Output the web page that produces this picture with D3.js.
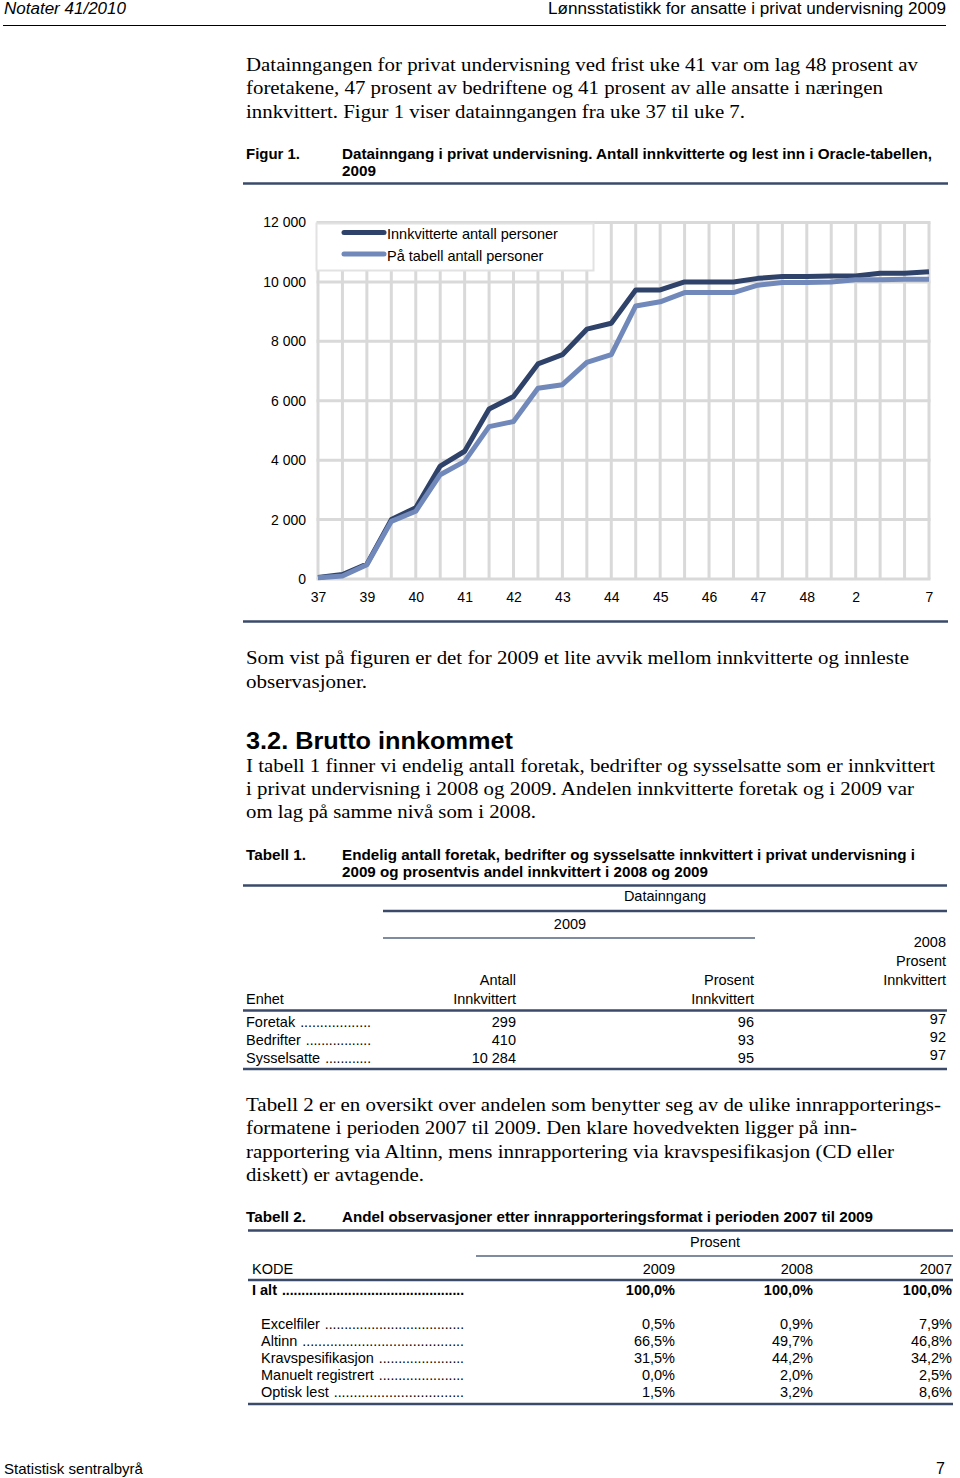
<!DOCTYPE html>
<html>
<head>
<meta charset="utf-8">
<script src="https://cdn.jsdelivr.net/npm/d3@7"></script>
<style>
  html, body { margin: 0; padding: 0; background: #fff; }
  svg { display: block; }
</style>
</head>
<body>
<div id="page"></div>
<script>
// ---------------- DATA ----------------
const weekLabels = ["37","","39","","40","","41","","42","","43","","44","","45","","46","","47","","48","","2","","","7"];
const innkvitterte = [50,150,500,2000,2400,3800,4300,5720,6140,7240,7550,8410,8610,9730,9730,10000,10000,10000,10120,10180,10180,10200,10200,10290,10290,10340];
const paTabell = [40,100,480,1940,2280,3510,3960,5130,5300,6420,6540,7290,7550,9190,9330,9640,9640,9640,9890,9980,9980,10000,10070,10070,10090,10090];
const seriesNames = ["Innkvitterte antall personer", "På tabell antall personer"];
const yTicks = [0, 2000, 4000, 6000, 8000, 10000, 12000];

const t1Units = ["Foretak", "Bedrifter", "Sysselsatte"];
const t1Antall2009 = [299, 410, 10284];
const t1Prosent2009 = [96, 93, 95];
const t1Prosent2008 = [97, 92, 97];

const t2Codes = ["Excelfiler", "Altinn", "Kravspesifikasjon", "Manuelt registrert", "Optisk lest"];
const t2Years = ["2009", "2008", "2007"];
const t2Total = [100.0, 100.0, 100.0];
const t2v2009 = [0.5, 66.5, 31.5, 0.0, 1.5];
const t2v2008 = [0.9, 49.7, 44.2, 2.0, 3.2];
const t2v2007 = [7.9, 46.8, 34.2, 2.5, 8.6];

// ---------------- HELPERS ----------------
const SANS = "'Liberation Sans', Arial, sans-serif";
const SERIF = "'Liberation Serif', 'Times New Roman', serif";
const W = 960, H = 1478;
const svg = d3.select("#page").append("svg").attr("width", W).attr("height", H);
svg.append("rect").attr("width", W).attr("height", H).attr("fill", "#fff");

function txt(str, x, y, o = {}) {
  const t = svg.append("text")
    .attr("x", x).attr("y", y)
    .attr("font-family", o.family || SANS)
    .attr("font-size", o.size || 14)
    .attr("font-weight", o.weight || "normal")
    .attr("font-style", o.style || "normal")
    .attr("text-anchor", o.anchor || "start")
    .attr("fill", o.fill || "#000")
    .text(str);
  if (o.len) t.attr("textLength", o.len).attr("lengthAdjust", "spacingAndGlyphs");
  return t;
}
function rule(x1, x2, y, o = {}) {
  svg.append("line").attr("x1", x1).attr("x2", x2).attr("y1", y).attr("y2", y)
    .attr("stroke", o.color || "#3a4a68").attr("stroke-width", o.w || 2.5);
}
function dotted(word, x, y, xEnd, o = {}) {
  const t = txt(word, x, y, o);
  const w = t.node().getComputedTextLength();
  const start = x + w + 5;
  const n = Math.max(3, Math.round((xEnd - start) / 3.9));
  txt(".".repeat(n), start, y, Object.assign({}, o, { len: xEnd - start }));
}
const fmtThousand = v => d3.format(",")(v).replace(/,/g, " ");
const fmtPct = v => d3.format(".1f")(v).replace(".", ",") + "%";

// ---------------- HEADER ----------------
txt("Notater 41/2010", 4, 14, { size: 16, style: "italic", len: 122 });
txt("Lønnsstatistikk for ansatte i privat undervisning 2009", 946, 14, { size: 16, anchor: "end", len: 398 });
rule(3, 946, 25.5, { color: "#000", w: 1 });

// ---------------- PARAGRAPH 1 ----------------
txt("Datainngangen for privat undervisning ved frist uke 41 var om lag 48 prosent av", 246, 71, { family: SERIF, size: 19.5, len: 672 });
txt("foretakene, 47 prosent av bedriftene og 41 prosent av alle ansatte i næringen", 246, 94, { family: SERIF, size: 19.5, len: 637 });
txt("innkvittert. Figur 1 viser datainngangen fra uke 37 til uke 7.", 246, 118, { family: SERIF, size: 19.5, len: 499 });

// ---------------- FIGURE CAPTION ----------------
txt("Figur 1.", 246, 159, { weight: "bold", size: 14.5, len: 54 });
txt("Datainngang i privat undervisning. Antall innkvitterte og lest inn i Oracle-tabellen,", 342, 159, { weight: "bold", size: 14.5, len: 590 });
txt("2009", 342, 176, { weight: "bold", size: 14.5, len: 34 });
rule(243, 948, 183.5);

// ---------------- CHART ----------------
const x = d3.scalePoint().domain(d3.range(weekLabels.length)).range([318, 929]);
const y = d3.scaleLinear().domain([0, 12000]).range([579, 222.5]);
const gridColor = "#d9d9d9";

const chart = svg.append("g");
// gridlines
chart.append("g").selectAll("line.v").data(x.domain()).join("line")
  .attr("x1", d => x(d)).attr("x2", d => x(d))
  .attr("y1", y(0)).attr("y2", y(12000))
  .attr("stroke", gridColor).attr("stroke-width", 3);
chart.append("g").selectAll("line.h").data(yTicks).join("line")
  .attr("x1", x(0) - 1.5).attr("x2", x(weekLabels.length - 1) + 1.5)
  .attr("y1", d => y(d)).attr("y2", d => y(d))
  .attr("stroke", gridColor).attr("stroke-width", 3);

// axes
const yAxis = chart.append("g").attr("transform", `translate(${x(0)},0)`)
  .call(d3.axisLeft(y).tickValues(yTicks).tickFormat(fmtThousand).tickSize(0).tickPadding(12));
const xAxis = chart.append("g").attr("transform", `translate(0,${y(0)})`)
  .call(d3.axisBottom(x).tickFormat(i => weekLabels[i]).tickSize(0).tickPadding(13));
[yAxis, xAxis].forEach(a => {
  a.select(".domain").remove();
  a.selectAll("text").attr("font-family", SANS).attr("font-size", 14).attr("fill", "#000");
});

// lines
const line = d3.line().x((d, i) => x(i)).y(d => y(d));
chart.append("path").datum(innkvitterte).attr("d", line)
  .attr("fill", "none").attr("stroke", "#2f4269").attr("stroke-width", 5).attr("stroke-linejoin", "round");
chart.append("path").datum(paTabell).attr("d", line)
  .attr("fill", "none").attr("stroke", "#7189ba").attr("stroke-width", 5).attr("stroke-linejoin", "round");

// legend
const lg = chart.append("g");
lg.append("rect").attr("x", 316.5).attr("y", 223.5).attr("width", 277).attr("height", 47)
  .attr("fill", "#fff").attr("stroke", "#e2e2e2").attr("stroke-width", 2);
const legendColors = ["#2f4269", "#7189ba"];
seriesNames.forEach((n, i) => {
  const ly = 232.5 + i * 21.5;
  lg.append("line").attr("x1", 344).attr("x2", 384).attr("y1", ly).attr("y2", ly)
    .attr("stroke", legendColors[i]).attr("stroke-width", 5).attr("stroke-linecap", "round");
  lg.append("text").attr("x", 387).attr("y", ly + 6.5).attr("font-family", SANS).attr("font-size", 14.5)
    .attr("fill", "#000").text(n);
});

rule(243, 948, 621.5);

// ---------------- PARAGRAPH 2 ----------------
txt("Som vist på figuren er det for 2009 et lite avvik mellom innkvitterte og innleste", 246, 664, { family: SERIF, size: 19.5, len: 663 });
txt("observasjoner.", 246, 688, { family: SERIF, size: 19.5, len: 121 });

txt("3.2.  Brutto innkommet", 246, 749, { weight: "bold", size: 24, len: 267 });
txt("I tabell 1 finner vi endelig antall foretak, bedrifter og sysselsatte som er innkvittert", 246, 772, { family: SERIF, size: 19.5, len: 689 });
txt("i privat undervisning i 2008 og 2009. Andelen innkvitterte foretak og i 2009 var", 246, 795, { family: SERIF, size: 19.5, len: 668 });
txt("om lag på samme nivå som i 2008.", 246, 818, { family: SERIF, size: 19.5, len: 290 });

// ---------------- TABLE 1 ----------------
txt("Tabell 1.", 246, 860, { weight: "bold", size: 14.5, len: 60 });
txt("Endelig antall foretak, bedrifter og sysselsatte innkvittert i privat undervisning i", 342, 860, { weight: "bold", size: 14.5, len: 573 });
txt("2009 og prosentvis andel innkvittert i 2008 og 2009", 342, 877, { weight: "bold", size: 14.5, len: 366 });
rule(243, 947, 885.5);
txt("Datainngang", 665, 901, { anchor: "middle", size: 14.5 });
rule(383, 947, 911);
txt("2009", 570, 929, { anchor: "middle", size: 14.5 });
rule(383, 755, 938, { w: 1.5, color: "#55647e" });
txt("2008", 946, 947, { anchor: "end", size: 14.5 });
txt("Prosent", 946, 966, { anchor: "end", size: 14.5 });
txt("Innkvittert", 946, 985, { anchor: "end", size: 14.5 });
txt("Antall", 516, 985, { anchor: "end", size: 14.5 });
txt("Innkvittert", 516, 1004, { anchor: "end", size: 14.5 });
txt("Prosent", 754, 985, { anchor: "end", size: 14.5 });
txt("Innkvittert", 754, 1004, { anchor: "end", size: 14.5 });
txt("Enhet", 246, 1004, { size: 14.5 });
rule(243, 947, 1010.5);
t1Units.forEach((u, i) => {
  const by = 1027 + i * 18;
  dotted(u, 246, by, 371, { size: 14.5 });
  txt(fmtThousand(t1Antall2009[i]), 516, by, { anchor: "end", size: 14.5 });
  txt(String(t1Prosent2009[i]), 754, by, { anchor: "end", size: 14.5 });
  txt(String(t1Prosent2008[i]), 946, by - 3, { anchor: "end", size: 14.5 });
});
rule(243, 947, 1069);

// ---------------- PARAGRAPH 3 ----------------
txt("Tabell 2 er en oversikt over andelen som benytter seg av de ulike innrapporterings-", 246, 1111, { family: SERIF, size: 19.5, len: 695 });
txt("formatene i perioden 2007 til 2009. Den klare hovedvekten ligger på inn-", 246, 1134, { family: SERIF, size: 19.5, len: 611 });
txt("rapportering via Altinn, mens innrapportering via kravspesifikasjon (CD eller", 246, 1158, { family: SERIF, size: 19.5, len: 648 });
txt("diskett) er avtagende.", 246, 1181, { family: SERIF, size: 19.5, len: 178 });

// ---------------- TABLE 2 ----------------
txt("Tabell 2.", 246, 1222, { weight: "bold", size: 14.5, len: 60 });
txt("Andel observasjoner etter innrapporteringsformat i perioden 2007 til 2009", 342, 1222, { weight: "bold", size: 14.5, len: 531 });
rule(248, 953, 1230.5);
txt("Prosent", 715, 1247, { anchor: "middle", size: 14.5 });
rule(476, 953, 1256, { w: 1.5, color: "#55647e" });
txt("KODE", 252, 1274, { size: 14.5 });
const t2ColX = [675, 813, 952];
t2Years.forEach((yr, j) => txt(yr, t2ColX[j], 1274, { anchor: "end", size: 14.5 }));
rule(248, 953, 1280);
dotted("I alt", 252, 1295, 464, { size: 14.5, weight: "bold" });
t2Total.forEach((v, j) => txt(fmtPct(v), t2ColX[j], 1295, { anchor: "end", size: 14.5, weight: "bold" }));
const t2Cols = [t2v2009, t2v2008, t2v2007];
t2Codes.forEach((c, i) => {
  const by = 1329 + i * 17.1;
  dotted(c, 261, by, 464, { size: 14.5 });
  t2Cols.forEach((col, j) => txt(fmtPct(col[i]), t2ColX[j], by, { anchor: "end", size: 14.5 }));
});
rule(248, 953, 1404);

// ---------------- FOOTER ----------------
txt("Statistisk sentralbyrå", 4, 1474, { size: 15, len: 139 });
txt("7", 945, 1474, { size: 16, anchor: "end" });
</script>
</body>
</html>
